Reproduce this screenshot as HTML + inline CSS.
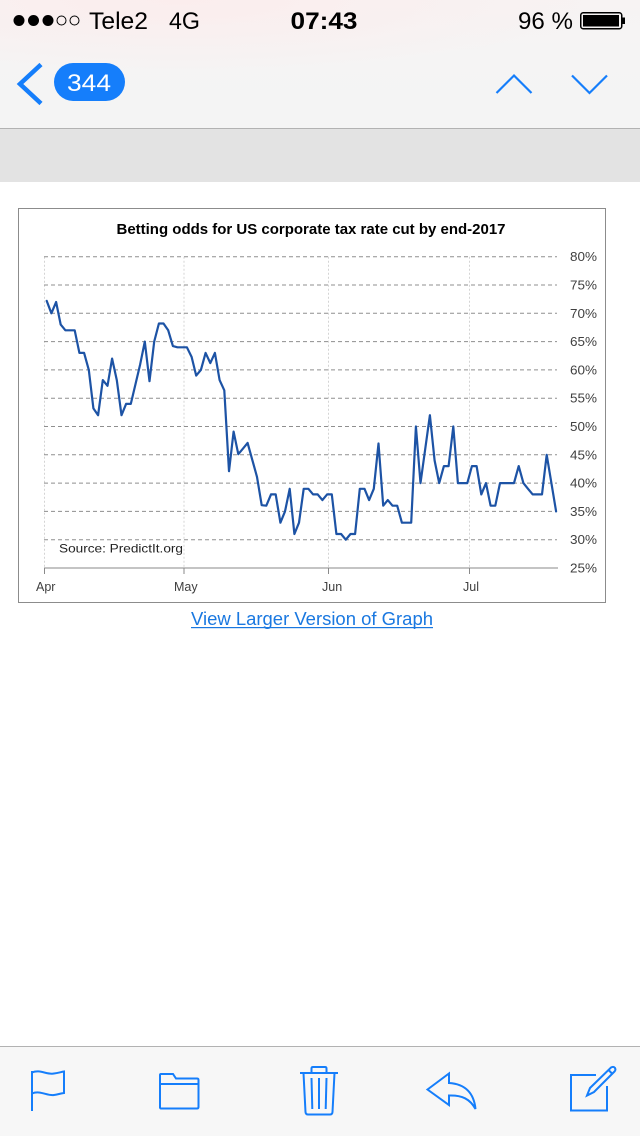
<!DOCTYPE html>
<html><head><meta charset="utf-8">
<style>
html,body{margin:0;padding:0;background:#fff;}
body{width:640px;height:1136px;overflow:hidden;}
svg{display:block;}
</style></head>
<body>
<svg width="640" height="1136" viewBox="0 0 640 1136" xmlns="http://www.w3.org/2000/svg">
<defs>
<linearGradient id="hdr" x1="0" y1="0" x2="0" y2="1">
<stop offset="0" stop-color="#f7f3f3"/>
<stop offset="0.4" stop-color="#f5f4f4"/>
<stop offset="1" stop-color="#f4f4f4"/>
</linearGradient>
<radialGradient id="pink" cx="180" cy="0" r="1" gradientUnits="userSpaceOnUse" gradientTransform="translate(180,0) scale(420,75) translate(-180,0)">
<stop offset="0" stop-color="#fbeded" stop-opacity="1"/>
<stop offset="1" stop-color="#fbeded" stop-opacity="0"/>
</radialGradient>
</defs>
<!-- header -->
<rect x="0" y="0" width="640" height="128" fill="url(#hdr)"/>
<ellipse cx="180" cy="0" rx="420" ry="75" fill="url(#pink)"/>
<!-- status bar -->
<circle cx="19" cy="20.5" r="5.5" fill="#000"/>
<circle cx="33.5" cy="20.5" r="5.5" fill="#000"/>
<circle cx="48" cy="20.5" r="5.5" fill="#000"/>
<circle cx="61.5" cy="20.5" r="4.5" fill="none" stroke="#000" stroke-width="1"/>
<circle cx="74.5" cy="20.5" r="4.5" fill="none" stroke="#000" stroke-width="1"/>
<text x="89" y="29" font-family="Liberation Sans, sans-serif" font-size="24" fill="#000" textLength="59" lengthAdjust="spacingAndGlyphs">Tele2</text>
<text x="169" y="29" font-family="Liberation Sans, sans-serif" font-size="24" fill="#000" textLength="31" lengthAdjust="spacingAndGlyphs">4G</text>
<text x="290.5" y="29" font-family="Liberation Sans, sans-serif" font-size="24" font-weight="bold" fill="#000" textLength="67" lengthAdjust="spacingAndGlyphs">07:43</text>
<text x="518" y="29" font-family="Liberation Sans, sans-serif" font-size="24" fill="#000" textLength="55" lengthAdjust="spacingAndGlyphs">96 %</text>
<rect x="580.75" y="12.75" width="41" height="16" rx="2.5" fill="none" stroke="#000" stroke-width="1.5"/>
<rect x="583" y="15" width="36" height="11.5" fill="#000"/>
<rect x="622.5" y="17.5" width="2.5" height="6.5" fill="#000"/>
<!-- nav bar -->
<polyline points="41,64.5 20,84 41,103.5" fill="none" stroke="#157efb" stroke-width="4.5" stroke-linecap="butt" stroke-linejoin="miter"/>
<rect x="54" y="63" width="71" height="38" rx="19" fill="#157efb"/>
<text x="67" y="91" font-family="Liberation Sans, sans-serif" font-size="24" fill="#fff" textLength="44" lengthAdjust="spacingAndGlyphs">344</text>
<polyline points="496.5,93 514,75.5 531.5,93" fill="none" stroke="#157efb" stroke-width="2.2"/>
<polyline points="572,75.5 589.5,93 607,75.5" fill="none" stroke="#157efb" stroke-width="2.2"/>
<rect x="0" y="128" width="640" height="1" fill="#b2b2b2"/>
<rect x="0" y="129" width="640" height="53" fill="#e3e3e3"/>
<!-- chart box -->
<rect x="18.5" y="208.5" width="587" height="394" fill="#fff" stroke="#8c8c8c" stroke-width="1"/>
<text x="311" y="234" text-anchor="middle" font-family="Liberation Sans, sans-serif" font-size="14.5" font-weight="bold" fill="#000" textLength="389" lengthAdjust="spacingAndGlyphs">Betting odds for US corporate tax rate cut by end-2017</text>
<!-- vertical gridlines -->
<g stroke="#d4d4d4" stroke-width="1" stroke-dasharray="2,2">
<line x1="44.5" y1="256.7" x2="44.5" y2="568"/>
<line x1="184" y1="256.7" x2="184" y2="568"/>
<line x1="328.5" y1="256.7" x2="328.5" y2="568"/>
<line x1="469.5" y1="256.7" x2="469.5" y2="568"/>
</g>
<!-- horizontal gridlines -->
<g stroke="#8f8f8f" stroke-width="1" stroke-dasharray="4,3">
<line x1="44" y1="256.7" x2="557" y2="256.7"/>
<line x1="44" y1="285" x2="557" y2="285"/>
<line x1="44" y1="313.3" x2="557" y2="313.3"/>
<line x1="44" y1="341.6" x2="557" y2="341.6"/>
<line x1="44" y1="369.9" x2="557" y2="369.9"/>
<line x1="44" y1="398.2" x2="557" y2="398.2"/>
<line x1="44" y1="426.5" x2="557" y2="426.5"/>
<line x1="44" y1="454.8" x2="557" y2="454.8"/>
<line x1="44" y1="483.1" x2="557" y2="483.1"/>
<line x1="44" y1="511.4" x2="557" y2="511.4"/>
<line x1="44" y1="539.7" x2="557" y2="539.7"/>
</g>
<!-- x axis -->
<line x1="44" y1="568" x2="558" y2="568" stroke="#8a8a8a" stroke-width="1"/>
<g stroke="#8a8a8a" stroke-width="1">
<line x1="44.5" y1="568" x2="44.5" y2="574"/>
<line x1="184" y1="568" x2="184" y2="574"/>
<line x1="328.5" y1="568" x2="328.5" y2="574"/>
<line x1="469.5" y1="568" x2="469.5" y2="574"/>
</g>
<!-- y labels -->
<g font-family="Liberation Sans, sans-serif" font-size="12.5" fill="#404040">
<text x="570" y="261.2" textLength="27" lengthAdjust="spacingAndGlyphs">80%</text>
<text x="570" y="289.5" textLength="27" lengthAdjust="spacingAndGlyphs">75%</text>
<text x="570" y="317.8" textLength="27" lengthAdjust="spacingAndGlyphs">70%</text>
<text x="570" y="346.1" textLength="27" lengthAdjust="spacingAndGlyphs">65%</text>
<text x="570" y="374.4" textLength="27" lengthAdjust="spacingAndGlyphs">60%</text>
<text x="570" y="402.7" textLength="27" lengthAdjust="spacingAndGlyphs">55%</text>
<text x="570" y="431" textLength="27" lengthAdjust="spacingAndGlyphs">50%</text>
<text x="570" y="459.3" textLength="27" lengthAdjust="spacingAndGlyphs">45%</text>
<text x="570" y="487.6" textLength="27" lengthAdjust="spacingAndGlyphs">40%</text>
<text x="570" y="515.9" textLength="27" lengthAdjust="spacingAndGlyphs">35%</text>
<text x="570" y="544.2" textLength="27" lengthAdjust="spacingAndGlyphs">30%</text>
<text x="570" y="572.5" textLength="27" lengthAdjust="spacingAndGlyphs">25%</text>
</g>
<!-- x labels -->
<g font-family="Liberation Sans, sans-serif" font-size="12.5" fill="#404040">
<text x="36" y="591">Apr</text>
<text x="174" y="591">May</text>
<text x="322" y="591">Jun</text>
<text x="463" y="591">Jul</text>
</g>
<text x="59" y="552.5" font-family="Liberation Sans, sans-serif" font-size="12" fill="#222" textLength="124" lengthAdjust="spacingAndGlyphs">Source:   PredictIt.org</text>
<!-- data line -->
<polyline fill="none" stroke="#1d53a5" stroke-width="2.2" stroke-linejoin="round" stroke-linecap="round" points="46.7,300.9 51.4,313.3 56.1,302.0 60.7,324.6 65.4,330.3 70.1,330.3 74.7,330.3 79.4,352.9 84.1,352.9 88.8,369.9 93.4,408.4 98.1,415.2 102.8,380.1 107.5,385.8 112.1,358.6 116.8,380.1 121.5,415.2 126.1,403.9 130.8,403.9 135.5,384.1 140.2,364.2 144.8,341.6 149.5,381.2 154.2,341.6 158.9,323.5 163.5,323.5 168.2,330.3 172.9,346.1 177.5,347.3 182.2,347.3 186.9,347.3 191.6,356.9 196.2,375.6 200.9,369.9 205.6,352.9 210.3,363.1 214.9,352.9 219.6,380.1 224.3,390.3 229.0,471.2 233.6,431.6 238.3,454.2 243.0,448.6 247.6,442.9 252.3,459.9 257.0,476.9 261.7,505.2 266.3,505.7 271.0,494.4 275.7,494.4 280.4,522.7 285.0,511.4 289.7,488.8 294.4,534.0 299.0,522.7 303.7,488.8 308.4,488.8 313.1,494.4 317.7,494.4 322.4,500.1 327.1,494.4 331.8,494.4 336.4,534.0 341.1,534.0 345.8,539.7 350.5,534.0 355.1,534.0 359.8,488.8 364.5,488.8 369.1,500.1 373.8,488.8 378.5,443.5 383.2,505.7 387.8,500.1 392.5,505.7 397.2,505.7 401.9,522.7 406.5,522.7 411.2,522.7 415.9,426.5 420.5,483.1 425.2,449.1 429.9,415.2 434.6,460.5 439.2,483.1 443.9,466.1 448.6,466.1 453.3,426.5 457.9,483.1 462.6,483.1 467.3,483.1 471.9,466.1 476.6,466.1 481.3,494.4 486.0,483.1 490.6,505.7 495.3,505.7 500.0,483.1 504.7,483.1 509.3,483.1 514.0,483.1 518.7,466.1 523.4,483.1 528.0,488.8 532.7,494.4 537.4,494.4 542.0,494.4 546.7,454.8 551.4,483.1 556.1,511.4"/>
<!-- link -->
<text x="312" y="625" text-anchor="middle" font-family="Liberation Sans, sans-serif" font-size="18" fill="#1a78e0" textLength="242" lengthAdjust="spacingAndGlyphs">View Larger Version of Graph</text>
<rect x="191" y="627" width="242" height="1.2" fill="#1a78e0"/>
<!-- toolbar -->
<rect x="0" y="1046" width="640" height="1" fill="#b2b2b2"/>
<rect x="0" y="1047" width="640" height="89" fill="#f7f7f7"/>
<g fill="none" stroke="#157efb" stroke-width="2">
<!-- flag -->
<line x1="32" y1="1071" x2="32" y2="1111"/>
<path d="M32,1072.5 C40,1069 47,1075 54,1073.5 C58,1073 61,1072 64,1071.5 L64,1093 C60,1093.5 58,1094.5 54,1095 C47,1096 40,1090 32,1093.5"/>
<!-- folder -->
<path d="M160,1108 L160,1075 Q160,1074 161,1074 L173,1074 L176,1078.5 L197,1078.5 Q198.5,1078.5 198.5,1080 L198.5,1107 Q198.5,1108.5 197,1108.5 L161,1108.5 Q160,1108.5 160,1107 Z"/>
<line x1="160" y1="1084" x2="198.5" y2="1084"/>
<!-- trash -->
<line x1="300" y1="1073" x2="338" y2="1073"/>
<path d="M311.5,1073 L311.5,1068.5 Q311.5,1067 313,1067 L325,1067 Q326.5,1067 326.5,1068.5 L326.5,1073"/>
<path d="M303.5,1073 L305.5,1112 Q305.7,1114.5 308,1114.5 L330,1114.5 Q332.3,1114.5 332.5,1112 L334.5,1073"/>
<line x1="311.5" y1="1078" x2="312.3" y2="1109"/>
<line x1="319" y1="1078" x2="319" y2="1109"/>
<line x1="326.5" y1="1078" x2="325.7" y2="1109"/>
<!-- reply -->
<path d="M427.5,1089.5 L449,1073.5 L449,1083 C466,1084 474,1094 475.5,1109 C470,1099 462,1095 449,1095.5 L449,1105 Z" stroke-linejoin="miter"/>
<!-- compose -->
<path d="M596,1075 L571,1075 L571,1110.5 L607,1110.5 L607,1086"/>
<path d="M587,1095.5 L590,1088 L611,1067.5 Q613.5,1066 615,1068 Q616,1070 614.5,1071.5 L594,1092 Z"/>
<line x1="608.5" y1="1070" x2="612" y2="1073.5"/>
</g>
</svg>
</body></html>
